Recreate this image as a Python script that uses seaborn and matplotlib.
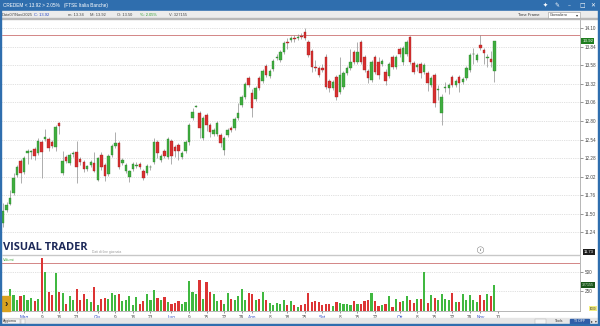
import numpy as np
import pandas as pd
import matplotlib
matplotlib.use("Agg")
import matplotlib.pyplot as plt
import seaborn as sns
from matplotlib.patches import Rectangle

# ---------------- data ----------------
opens = [11.37, 11.55, 11.64, 11.79, 12.04, 12.24, 12.09, 12.35, 12.36, 12.41,
         12.35, 12.50, 12.55, 12.55, 12.50, 12.44, 12.77, 12.07, 12.30, 12.21,
         12.34, 12.37, 12.27, 12.23, 12.13, 12.18, 12.21, 11.98, 12.32, 12.18,
         12.06, 12.32, 12.45, 12.49, 12.21, 12.10, 12.02, 12.13, 12.17, 12.20,
         12.10, 12.07, 12.15, 12.23, 12.50, 12.25, 12.38, 12.30, 12.52, 12.44,
         12.46, 12.30, 12.38, 12.50, 12.84, 13.00, 12.91, 12.56, 12.88, 12.74,
         12.62, 12.62, 12.60, 12.39, 12.60, 12.70, 12.70, 12.84, 13.02, 13.14,
         13.40, 13.19, 13.11, 13.40, 13.36, 13.57, 13.43, 13.53, 13.68, 13.65,
         13.76, 13.91, 13.93, 13.96, 13.96, 13.99, 14.04, 13.90, 13.78, 13.55,
         13.54, 13.54, 13.70, 13.36, 13.26, 13.41, 13.20, 13.27, 13.47, 13.54,
         13.76, 13.62, 13.90, 13.69, 13.50, 13.37, 13.69, 13.62, 13.60, 13.49,
         13.43, 13.69, 13.55, 13.80, 13.62, 13.74, 13.97, 13.61, 13.55, 13.60,
         13.48, 13.47, 13.30, 13.44, 13.23, 12.91, 13.26, 13.26, 13.41, 13.30,
         13.41, 13.34, 13.40, 13.51, 13.73, 13.65, 13.86, 13.79, 13.68, 13.67,
         13.50]
highs = [11.65, 11.66, 11.83, 12.07, 12.19, 12.27, 12.31, 12.41, 12.40, 12.44,
         12.56, 12.53, 12.69, 12.58, 12.53, 12.74, 12.79, 12.38, 12.33, 12.35,
         12.38, 12.52, 12.30, 12.26, 12.19, 12.26, 12.36, 12.30, 12.36, 12.21,
         12.34, 12.48, 12.64, 12.52, 12.28, 12.21, 12.12, 12.23, 12.22, 12.23,
         12.13, 12.20, 12.19, 12.56, 12.53, 12.34, 12.41, 12.58, 12.55, 12.47,
         12.49, 12.38, 12.53, 12.77, 12.98, 13.02, 12.94, 12.87, 12.91, 12.77,
         12.70, 12.80, 12.63, 12.59, 12.70, 12.73, 12.86, 13.05, 13.16, 13.35,
         13.43, 13.24, 13.29, 13.43, 13.53, 13.60, 13.53, 13.67, 13.73, 13.79,
         13.92, 13.96, 13.99, 14.00, 14.02, 14.03, 14.10, 13.93, 13.81, 13.65,
         13.57, 13.60, 13.73, 13.39, 13.37, 13.44, 13.70, 13.50, 13.57, 13.80,
         13.79, 13.90, 13.93, 13.72, 13.53, 13.65, 13.72, 13.70, 13.67, 13.52,
         13.63, 13.72, 13.72, 13.84, 13.85, 13.93, 13.99, 13.64, 13.61, 13.63,
         13.61, 13.50, 13.43, 13.47, 13.30, 13.17, 13.35, 13.33, 13.44, 13.39,
         13.44, 13.42, 13.57, 13.75, 13.82, 13.75, 14.00, 13.82, 13.74, 13.78,
         13.92]
lows = [11.32, 11.52, 11.62, 11.76, 12.01, 11.93, 12.06, 12.20, 12.27, 12.25,
        12.33, 12.00, 12.52, 12.38, 12.42, 12.38, 12.62, 12.04, 12.21, 12.18,
        12.30, 11.93, 12.19, 12.08, 12.10, 12.15, 12.08, 11.96, 12.12, 11.96,
        12.03, 12.30, 12.42, 12.13, 12.18, 12.07, 11.95, 12.10, 12.14, 12.13,
        11.97, 12.04, 12.12, 12.20, 12.28, 12.22, 12.28, 12.27, 12.20, 12.30,
        12.25, 12.27, 12.35, 12.47, 12.81, 12.99, 12.56, 12.53, 12.66, 12.58,
        12.59, 12.59, 12.44, 12.33, 12.57, 12.64, 12.67, 12.81, 12.99, 13.11,
        13.27, 12.85, 13.08, 13.23, 13.33, 13.41, 13.40, 13.50, 13.65, 13.62,
        13.73, 13.81, 13.90, 13.91, 13.93, 13.95, 13.93, 13.69, 13.48, 13.50,
        13.41, 13.48, 13.24, 13.20, 13.23, 13.10, 13.17, 13.24, 13.44, 13.51,
        13.59, 13.59, 13.59, 13.48, 13.33, 13.34, 13.45, 13.38, 13.57, 13.30,
        13.40, 13.52, 13.52, 13.70, 13.58, 13.71, 13.59, 13.45, 13.50, 13.40,
        13.45, 13.22, 13.27, 12.99, 13.10, 12.74, 13.20, 13.18, 13.27, 13.27,
        13.20, 13.31, 13.37, 13.48, 13.60, 13.62, 13.79, 13.60, 13.55, 13.55,
        13.34]
closes = [11.54, 11.62, 11.72, 12.00, 12.15, 12.07, 12.28, 12.38, 12.38, 12.31,
          12.52, 12.36, 12.57, 12.42, 12.45, 12.72, 12.73, 12.24, 12.24, 12.32,
          12.35, 12.16, 12.23, 12.13, 12.17, 12.22, 12.10, 12.28, 12.15, 12.03,
          12.31, 12.45, 12.49, 12.16, 12.25, 12.18, 12.10, 12.20, 12.19, 12.16,
          12.00, 12.17, 12.16, 12.50, 12.35, 12.31, 12.31, 12.55, 12.31, 12.38,
          12.38, 12.35, 12.50, 12.74, 12.92, 13.01, 12.70, 12.84, 12.74, 12.65,
          12.67, 12.77, 12.49, 12.56, 12.67, 12.67, 12.83, 12.91, 13.13, 13.32,
          13.30, 12.98, 13.26, 13.26, 13.50, 13.44, 13.50, 13.64, 13.70, 13.76,
          13.89, 13.89, 13.96, 13.94, 13.98, 13.98, 13.96, 13.72, 13.56, 13.54,
          13.44, 13.51, 13.27, 13.26, 13.34, 13.13, 13.44, 13.47, 13.54, 13.63,
          13.62, 13.76, 13.62, 13.51, 13.40, 13.62, 13.48, 13.44, 13.64, 13.36,
          13.60, 13.55, 13.69, 13.74, 13.82, 13.90, 13.62, 13.48, 13.58, 13.47,
          13.58, 13.33, 13.40, 13.05, 13.24, 13.14, 13.27, 13.30, 13.30, 13.36,
          13.33, 13.39, 13.54, 13.72, 13.74, 13.72, 13.82, 13.75, 13.69, 13.63,
          13.92]
volumes = [150, 140,
           275, 199, 144, 186, 207, 135, 169, 127, 157, 677,
           495, 241, 207, 482, 241, 228, 93, 186, 144, 283,
           144, 212, 157, 114, 305, 72, 148, 169, 148, 233,
           199, 212, 127, 144, 190, 80, 173, 93, 127, 220,
           144, 271, 165, 144, 178, 114, 93, 102, 131, 93,
           114, 381, 241, 212, 389, 157, 368, 241, 212, 123,
           135, 93, 228, 157, 144, 186, 283, 135, 228, 212,
           144, 157, 241, 144, 102, 72, 102, 93, 135, 72,
           123, 72, 51,
           80, 93, 228, 114, 123, 110, 72, 93, 93, 59,
           114, 102, 93, 85, 72, 123, 93, 93, 123, 135,
           228, 127, 59, 80, 93, 186, 51, 152, 114, 123,
           186, 135, 106, 157, 157, 495, 102, 199, 169, 135,
           220, 157, 135, 228, 114, 114, 212, 144, 199, 135,
           114, 199, 135, 220, 186, 334]  # thousands of shares

tick_pos = [6, 11, 16, 21, 27, 32, 37, 42, 48, 53, 58, 63, 68, 71, 76, 81, 86,
            91, 96, 101, 106, 113, 118, 123, 128, 133, 136, 141]
tick_labels = ["Mag", "9", "16", "23", "Giu", "9", "16", "23", "Lug", "9", "15",
               "22", "29", "Ago", "8", "18", "25", "Set", "8", "15", "22", "Ott",
               "8", "15", "22", "29", "Nov", "10"]
month_names = ["Mag", "Giu", "Lug", "Ago", "Set", "Ott", "Nov"]
price_ticks = [14.10, 13.84, 13.58, 13.32, 13.06, 12.80, 12.54, 12.28, 12.02,
               11.76, 11.50, 11.24]
vol_ticks = [250, 500]
resistance = 14.00
vol_line = 610
last_close = 13.92
last_volume = 327155
low_marker = 11.73

# ---------------- style ----------------
sns.set_theme(style="white")
plt.rcParams['font.family'] = ['Liberation Sans', 'DejaVu Sans']

W, H = 600, 326
fig = plt.figure(figsize=(6, 3.26), dpi=100)
fig.patch.set_facecolor("white")

def box(x0, y0, x1, y1):
    return [x0 / W, 1 - y1 / H, (x1 - x0) / W, (y1 - y0) / H]

def frect(x0, y0, x1, y1, **kw):
    fig.patches.append(Rectangle((x0 / W, 1 - y1 / H), (x1 - x0) / W, (y1 - y0) / H,
                                 transform=fig.transFigure, **kw))

def ftext(x, y, s, **kw):
    kw.setdefault("va", "center")
    return fig.text(x / W, 1 - y / H, s, **kw)

BLUE = "#2f6eae"
UP, DOWN = "#3fae3f", "#d83030"
idx = np.arange(len(closes))
o, h, l, c = map(np.array, (opens, highs, lows, closes))
up = c >= o

# ---------------- frame / header ----------------
frect(0, 0, 600, 11, color=BLUE, zorder=0)
ftext(3, 5.5, "CREDEM < 13.92 > 2.05%   (FTSE Italia Banche)", color="white", fontsize=3.4)
for xx, s in zip([545, 557, 569, 582, 593], ["\u2726", "\u270E", "\u2013", "\u25A1", "\u2715"]):
    ftext(xx, 5.5, s, color="white", fontsize=4.2, ha="center", family=["DejaVu Sans"])
frect(0, 11, 600, 18, color="#ececec", zorder=0)
frect(0, 18, 600, 18.6, color="#b8b8b8", zorder=0)
ftext(2, 14.5, "Data07/Nov/2025", color="#444", fontsize=2.9)
ftext(34, 14.5, "C: 13.92", color="#2040c0", fontsize=2.9)
ftext(68, 14.5, "m: 13.34", color="#444", fontsize=2.9)
ftext(90, 14.5, "M: 13.92", color="#444", fontsize=2.9)
ftext(117, 14.5, "O: 13.50", color="#444", fontsize=2.9)
ftext(140, 14.5, "%: 2.05%", color="#2a9a2a", fontsize=2.9)
ftext(169, 14.5, "V: 327155", color="#444", fontsize=2.9)
ftext(518, 14.5, "Time Frame", color="#333", fontsize=2.9)
frect(548, 12, 580, 17.5, facecolor="white", edgecolor="#999", lw=0.4, zorder=1)
ftext(550, 14.7, "Giornaliero", color="#333", fontsize=2.6)
ftext(577, 14.7, "\u25BE", color="#333", fontsize=3, ha="center", family=["DejaVu Sans"])

# ---------------- price panel ----------------
ax = fig.add_axes(box(1.5, 19, 580, 255))
ax.set_facecolor("white")
x_lo, x_hi = -0.43, 164.4
ax.set_xlim(x_lo, x_hi)
ax.set_ylim(10.925, 14.226)
ax.set_yticks(price_ticks)
ax.set_yticklabels([f"{p:.2f}" for p in price_ticks])
ax.yaxis.tick_right()
ax.tick_params(axis="y", labelsize=3.3, colors="#444", length=2, width=0.4, pad=1.5, right=True)
ax.set_xticks([])
ax.grid(axis="y", color="#c4c4c4", linestyle=(0, (1, 1.6)), linewidth=0.5)
for s in ["top", "left", "bottom"]:
    ax.spines[s].set_visible(False)
ax.spines["right"].set_color("#9a9a9a")
ax.spines["right"].set_linewidth(0.5)
ax.axhline(resistance, color="#cc7373", lw=0.6, zorder=1)

ax.vlines(idx, l, h, color="#808080", lw=0.45, zorder=2)
body_bottom = np.minimum(o, c)
body_h = np.maximum(np.abs(c - o), 0.012)
ax.bar(idx, body_h, bottom=body_bottom, width=0.7,
       color=np.where(up, UP, DOWN), edgecolor=np.where(up, "#2a7e2a", "#9c1c1c"),
       linewidth=0.25, zorder=3)

ax.text(1.004, last_close, f"{last_close:.2f}", transform=ax.get_yaxis_transform(),
        fontsize=3.2, color="white", va="center", ha="left",
        bbox=dict(fc="#1f7d1f", ec="none", pad=0.7), zorder=5, clip_on=False)

# watermark
ftext(3, 247.3, "VISUAL TRADER", color="#1c2858", fontsize=7.9, fontweight="bold",
      family=["Open Sans"])
ftext(92, 251.5, "Dati di fine giornata", color="#999", fontsize=2.4)
ftext(480.5, 250, "i", color="#555", fontsize=3.0, ha="center", fontstyle="italic",
      fontweight="bold", bbox=dict(boxstyle="circle,pad=0.3", fc="white", ec="#888", lw=0.4))
ftext(584, 252, f"{low_marker:.2f}", color="white", fontsize=3.0,
      bbox=dict(fc="#1e1e1e", ec="none", pad=0.6))
frect(1.5, 254.6, 580, 255.2, color="#c8c8c8", zorder=1)

# ---------------- volume panel ----------------
vax = fig.add_axes(box(1.5, 256, 580, 311))
df = pd.DataFrame({"idx": idx, "vol": volumes,
                   "dir": np.where(up, "up", "down")})
sns.barplot(data=df, x="idx", y="vol", hue="dir", palette={"up": "#40b840", "down": "#dc3434"},
            native_scale=True, dodge=False, width=0.62, errorbar=None, legend=False,
            saturation=1, linewidth=0, ax=vax, zorder=3)
vax.set_xlim(x_lo, x_hi)
vax.set_ylim(0, 698)
vax.set_xlabel("")
vax.set_ylabel("")
vax.set_yticks(vol_ticks)
vax.set_yticklabels([str(v) for v in vol_ticks])
vax.yaxis.tick_right()
vax.tick_params(axis="y", labelsize=3.3, colors="#444", length=2, width=0.4, pad=1.5, right=True, left=False)
vax.grid(axis="y", color="#c4c4c4", linestyle=(0, (1, 1.6)), linewidth=0.5)
vax.axhline(vol_line, color="#cc7373", lw=0.6, zorder=1)
for s in ["top", "left"]:
    vax.spines[s].set_visible(False)
vax.spines["right"].set_color("#9a9a9a")
vax.spines["right"].set_linewidth(0.5)
vax.spines["bottom"].set_color("#9a9a9a")
vax.spines["bottom"].set_linewidth(0.5)
vax.set_xticks(tick_pos)
vax.set_xticklabels(tick_labels)
vax.tick_params(axis="x", labelsize=3.3, length=1.5, width=0.4, pad=1.2, colors="#444", bottom=True)
for lab in vax.get_xticklabels():
    lab.set_color("#2a48c8" if lab.get_text() in month_names else "#444")
vax.text(0.003, 0.96, "Volumi", transform=vax.transAxes, color="#3aa53a", fontsize=2.8, va="top")
vax.text(1.004, last_volume / 1000, str(last_volume), transform=vax.get_yaxis_transform(),
         fontsize=2.6, color="#cfe8cf", va="center", ha="left",
         bbox=dict(fc="#1a551a", ec="none", pad=0.6), clip_on=False, zorder=5)
ftext(590, 308.5, "1000", color="#333", fontsize=2.0,
      bbox=dict(fc="#f3ee80", ec="none", pad=0.4))
frect(1.5, 296, 10, 311, color="#d9a21e", zorder=4)
ftext(5.8, 303.5, "\u203A", color="#222", fontsize=7, ha="center", fontweight="bold", zorder=5)

# ---------------- bottom bar & borders ----------------
frect(0, 318, 600, 324, color="#e6e6e6", zorder=0)
frect(2, 318.5, 20, 323.5, facecolor="#f4f4f4", edgecolor="#aaa", lw=0.3, zorder=1)
ftext(3, 321, "Aggiorna", color="#333", fontsize=2.5)
frect(20.5, 318.5, 25, 323.5, facecolor="#f4f4f4", edgecolor="#aaa", lw=0.3, zorder=1)
frect(535, 318.5, 546, 323.5, facecolor="#f4f4f4", edgecolor="#aaa", lw=0.3, zorder=1)
ftext(555, 321, "Tools", color="#333", fontsize=2.6)
frect(570, 318.5, 589, 323.5, color="#2f5ea8", zorder=1)
ftext(579.5, 321, "TI OFF", color="white", fontsize=2.6, ha="center")
ftext(592, 321, "\u25B8", color="#333", fontsize=2.6, ha="center", family=["DejaVu Sans"])
ftext(596, 321, "\u25BE", color="#333", fontsize=2.6, ha="center", family=["DejaVu Sans"])
frect(0, 324, 600, 326, color=BLUE, zorder=6)
frect(0, 0, 1.3, 326, color=BLUE, zorder=6)
frect(597.8, 0, 600, 326, color=BLUE, zorder=6)

fig.savefig("out.png", dpi=100)
